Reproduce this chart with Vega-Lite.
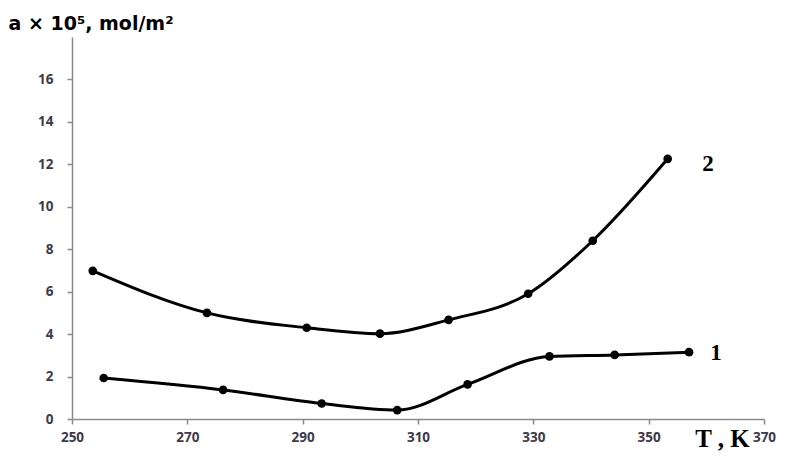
{
  "$schema": "https://vega.github.io/schema/vega-lite/v6.json",
  "width": 692,
  "height": 382,
  "autosize": {"type": "none"},
  "padding": {"left": 72, "top": 37, "right": 21, "bottom": 37},
  "background": "white",
  "config": {"view": {"stroke": null}},
  "datasets": {
    "curves": [
      {"series": "2", "T": 253.6, "a": 6.98},
      {"series": "2", "T": 273.4, "a": 5.0},
      {"series": "2", "T": 290.7, "a": 4.3},
      {"series": "2", "T": 303.4, "a": 4.02},
      {"series": "2", "T": 315.3, "a": 4.67},
      {"series": "2", "T": 329.1, "a": 5.9},
      {"series": "2", "T": 340.3, "a": 8.4},
      {"series": "2", "T": 353.3, "a": 12.26},
      {"series": "1", "T": 255.5, "a": 1.93},
      {"series": "1", "T": 276.2, "a": 1.37},
      {"series": "1", "T": 293.3, "a": 0.73},
      {"series": "1", "T": 306.4, "a": 0.42},
      {"series": "1", "T": 318.6, "a": 1.63},
      {"series": "1", "T": 332.8, "a": 2.95},
      {"series": "1", "T": 344.1, "a": 3.02},
      {"series": "1", "T": 357.0, "a": 3.15}
    ],
    "labels": [
      {"label": "2", "T": 359.3, "a": 12.03},
      {"label": "1", "T": 360.7, "a": 3.1}
    ]
  },
  "layer": [
    {
      "data": {"name": "curves"},
      "mark": {"type": "line", "interpolate": "monotone", "color": "black", "strokeWidth": 3},
      "encoding": {
        "x": {
          "field": "T", "type": "quantitative",
          "scale": {"domain": [250, 370], "nice": false, "zero": false},
          "axis": {
            "values": [250, 270, 290, 310, 330, 350, 370],
            "grid": false,
            "domainColor": "#8a8a8a", "domainWidth": 1.5,
            "tickColor": "#8a8a8a", "tickWidth": 1.5, "tickSize": 5,
            "labelFont": "Open Sans", "labelFontSize": 13.5, "labelFontWeight": "bold",
            "labelColor": "#3d3a4e", "labelPadding": 6, "labelFlush": false,
            "title": "T , K",
            "titleFont": "Liberation Serif", "titleFontSize": 25, "titleFontWeight": "bold",
            "titleColor": "black",
            "titleX": 650, "titleY": 19, "titleAlign": "center", "titleBaseline": "middle"
          }
        },
        "y": {
          "field": "a", "type": "quantitative",
          "scale": {"domain": [0, 18], "nice": false},
          "axis": {
            "values": [0, 2, 4, 6, 8, 10, 12, 14, 16],
            "grid": false,
            "domainColor": "#8a8a8a", "domainWidth": 1.5,
            "tickColor": "#8a8a8a", "tickWidth": 1.5, "tickSize": 5,
            "labelFont": "Open Sans", "labelFontSize": 13.5, "labelFontWeight": "bold",
            "labelColor": "#3d3a4e", "labelPadding": 14,
            "title": "a × 10⁵, mol/m²",
            "titleFont": "DejaVu Sans", "titleFontSize": 19, "titleFontWeight": "bold",
            "titleColor": "black", "titleAngle": 0,
            "titleX": -64, "titleY": -14, "titleAlign": "left", "titleBaseline": "middle"
          }
        },
        "detail": {"field": "series"}
      }
    },
    {
      "data": {"name": "curves"},
      "mark": {"type": "point", "filled": true, "color": "black", "size": 75, "opacity": 1},
      "encoding": {
        "x": {"field": "T", "type": "quantitative"},
        "y": {"field": "a", "type": "quantitative"}
      }
    },
    {
      "data": {"name": "labels"},
      "mark": {"type": "text", "font": "Liberation Serif", "fontSize": 23, "fontWeight": "bold", "color": "black", "align": "left", "baseline": "middle"},
      "encoding": {
        "x": {"field": "T", "type": "quantitative"},
        "y": {"field": "a", "type": "quantitative"},
        "text": {"field": "label"}
      }
    }
  ]
}
